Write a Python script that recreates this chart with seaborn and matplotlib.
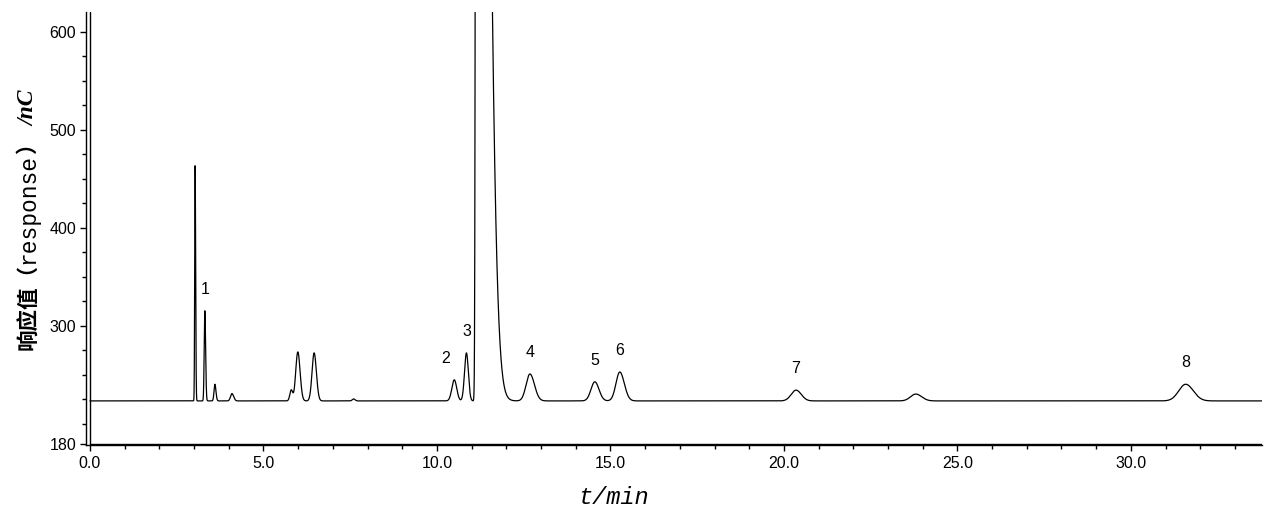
import numpy as np
import pandas as pd
import matplotlib
matplotlib.use('Agg')
import matplotlib.pyplot as plt
from matplotlib.ticker import MultipleLocator, FixedLocator
import seaborn as sns

# Peak table (retention time / min, height above baseline / nC)
peak_times = [3.03, 3.31, 3.60, 4.09, 5.80, 5.99, 6.46, 7.60, 10.50, 10.85,
              11.14, 12.68, 14.55, 15.27, 20.35, 23.80, 31.58]
peak_heights = [240, 92, 17, 7.5, 11, 50, 49, 2, 21.5, 49,
                2020, 27.5, 19.5, 29.5, 11, 7, 17]
# peak widths (sigma, min) on the leading / tailing side
sigma_left = [0.012, 0.018, 0.025, 0.04, 0.04, 0.06, 0.06, 0.04, 0.07, 0.055,
              0.022, 0.11, 0.11, 0.11, 0.14, 0.15, 0.20]
sigma_right = [0.015, 0.022, 0.03, 0.05, 0.04, 0.065, 0.065, 0.04, 0.07, 0.055,
               0.255, 0.13, 0.12, 0.13, 0.15, 0.17, 0.22]
baseline = 223.5

# labelled peaks
label_names = ['1', '2', '3', '4', '5', '6', '7', '8']
label_peaks = [3.31, 10.50, 10.85, 12.68, 14.55, 15.27, 20.35, 31.58]

# axis ticks
x_major = [0.0, 5.0, 10.0, 15.0, 20.0, 25.0, 30.0]
y_major = [180, 300, 400, 500, 600]

# build the detector trace from the peak table
t = np.linspace(0, 33.8, 40000)
signal = np.full_like(t, baseline)
for c, h, sl, sr in zip(peak_times, peak_heights, sigma_left, sigma_right):
    s = np.where(t < c, sl, sr)
    signal += h * np.exp(-0.5 * ((t - c) / s) ** 2)
df = pd.DataFrame({'time': t, 'response': signal})

sns.set_style('ticks')
plt.rcParams['font.family'] = ['Liberation Sans', 'Noto Sans CJK SC']

fig = plt.figure(figsize=(12.74, 5.17), dpi=100)
ax = fig.add_axes([86 / 1274, (517 - 445) / 517, (1262 - 86) / 1274, (445 - 12) / 517])

sns.lineplot(data=df, x='time', y='response', color='black', linewidth=0.9, ax=ax)

ax.set_xlim(-0.115, 33.78)
ax.set_ylim(178.5, 620.4)

# inner frame lines (double border like the instrument software)
ax.axvline(0, color='black', linewidth=1.0)
ax.axhline(180, xmin=0.115 / 33.9, color='black', linewidth=1.0)

for side in ['top', 'right']:
    ax.spines[side].set_visible(False)
ax.spines['left'].set_linewidth(1.0)
ax.spines['bottom'].set_linewidth(1.0)
ax.spines['left'].set_color('black')
ax.spines['bottom'].set_color('black')

ax.xaxis.set_major_locator(FixedLocator(x_major))
ax.xaxis.set_minor_locator(MultipleLocator(1.0))
ax.set_xticklabels([f'{v:.1f}' for v in x_major])
ax.yaxis.set_major_locator(FixedLocator(y_major))
ax.yaxis.set_minor_locator(FixedLocator([v for v in range(200, 620, 25) if v not in y_major]))
ax.tick_params(axis='both', which='major', direction='out', length=4, width=1,
               labelsize=11.5, color='black', labelcolor='black')
ax.tick_params(axis='both', which='minor', direction='out', length=3, width=1, color='black')
ax.tick_params(axis='y', pad=3)
ax.tick_params(axis='x', pad=4)
ax.set_xlabel('')
ax.set_ylabel('')

# peak numbers above each apex
for name, pt in zip(label_names, label_peaks):
    apex = df.loc[(df.time - pt).abs() < 0.08, 'response'].max()
    dx = -6 if name == '2' else 0
    ax.annotate(name, (pt, apex), xytext=(dx, 10), textcoords='offset points',
                ha='center', va='bottom', fontsize=11.5, family='Liberation Sans',
                color='black')

# axis titles
fig.text(614 / 1274, (517 - 497) / 517, 't/min', ha='center', va='center',
         family='Liberation Mono', style='italic', fontsize=17, color='black')

# y title stacked from bottom to top on a shared baseline
cjk = dict(family='Noto Sans CJK SC', fontsize=15.5, fontweight='bold')
y_pieces = [
    ('响应值（', cjk, 0),
    ('response', dict(family='Liberation Mono', fontsize=16.5), 0),
    ('）', cjk, 0),
    ('/nC', dict(family='Liberation Serif', style='italic', fontweight='bold', fontsize=17), 6),
]
y_pos = 517 - 350
for text, kw, gap in y_pieces:
    tx = fig.text(34 / 1274, (y_pos + gap) / 517, text, rotation=90, rotation_mode='anchor',
                  ha='left', va='baseline', color='black', **kw)
    fig.canvas.draw()
    y_pos = tx.get_window_extent().y1

plt.savefig('out.png', dpi=100)
